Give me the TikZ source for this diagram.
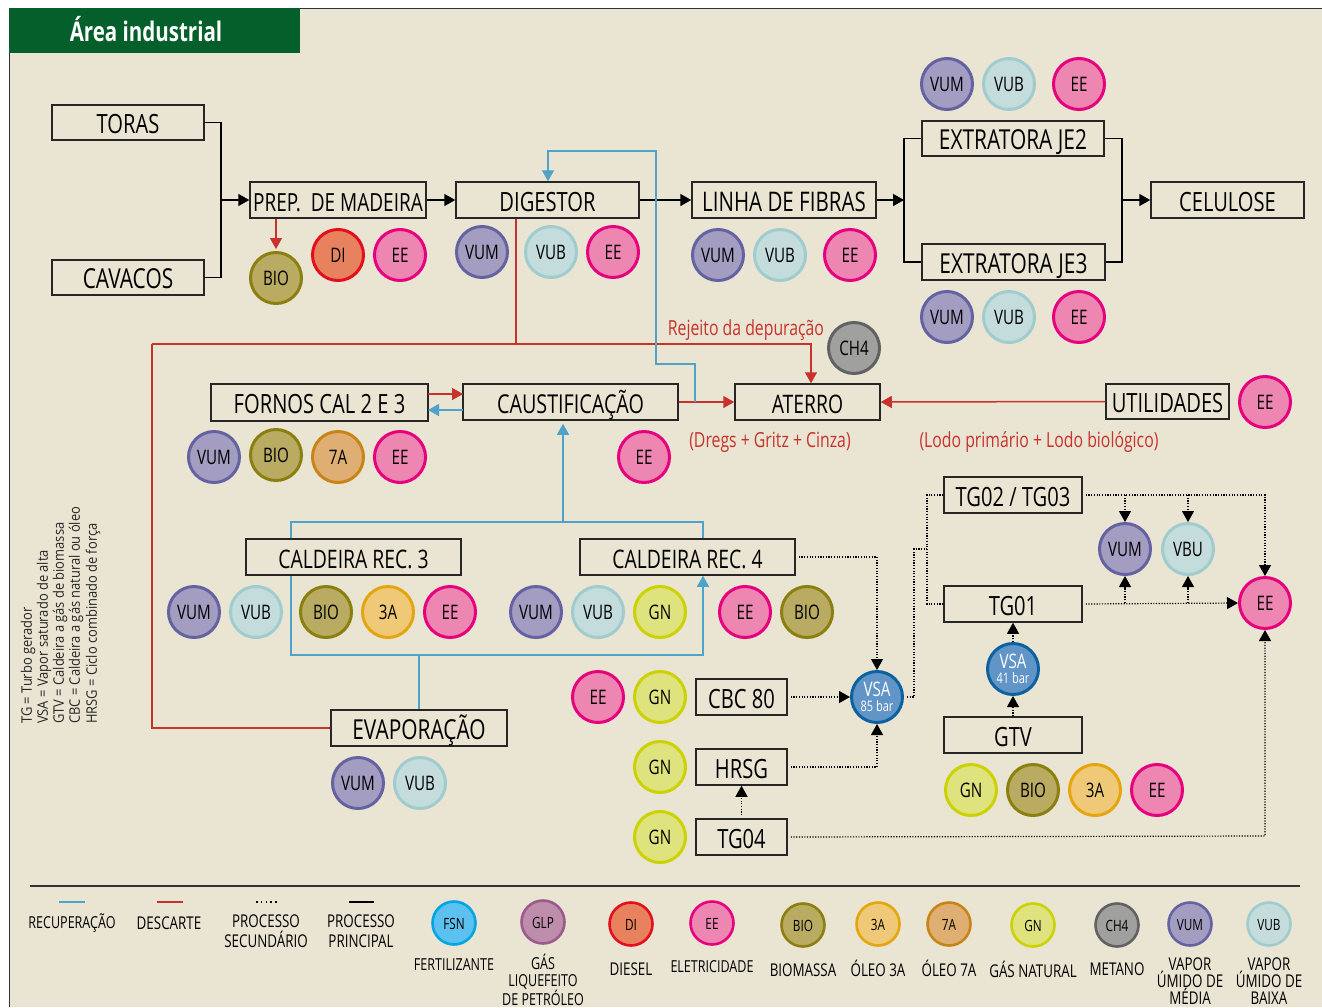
\documentclass[tikz,border=0pt]{standalone}
\usepackage{fontspec}
\setmainfont[FakeStretch=0.76]{Open Sans}
\newfontfamily\sidefont[FakeStretch=0.89]{Open Sans}
\usetikzlibrary{arrows.meta,calc}
\definecolor{bgc}{HTML}{E9E5D2}
\definecolor{grn}{HTML}{055F2B}
\definecolor{redl}{HTML}{C8322D}
\definecolor{blul}{HTML}{4FA3C9}
\definecolor{VUMf}{HTML}{A49DC2}\definecolor{VUMl}{HTML}{6462A0}
\definecolor{VUBf}{HTML}{C4DCDC}\definecolor{VUBl}{HTML}{A0CCCF}
\definecolor{EEf}{HTML}{EE86B2}\definecolor{EEl}{HTML}{E6007E}
\definecolor{BIOf}{HTML}{B9AB62}\definecolor{BIOl}{HTML}{8A7F0F}
\definecolor{DIf}{HTML}{E8825E}\definecolor{DIl}{HTML}{E30F1E}
\definecolor{TAf}{HTML}{EFC977}\definecolor{TAl}{HTML}{E5A50E}
\definecolor{SAf}{HTML}{DFAE73}\definecolor{SAl}{HTML}{C98418}
\definecolor{GNf}{HTML}{DFE37E}\definecolor{GNl}{HTML}{CBD200}
\definecolor{CHf}{HTML}{A0A19E}\definecolor{CHl}{HTML}{616161}
\definecolor{FSNf}{HTML}{5CC1EE}\definecolor{FSNl}{HTML}{00A5E3}
\definecolor{GLPf}{HTML}{BF8DAC}\definecolor{GLPl}{HTML}{9B5B8A}
\definecolor{VSAf}{HTML}{6195C8}\definecolor{VSAl}{HTML}{0C629E}
\tikzset{
  boxn/.style={draw=black!85,line width=1.5pt,inner sep=0pt,font=\fontsize{26.5}{26.5}\selectfont,text=black,text height=22pt,text depth=0pt},
  discb/.style={circle,line width=3pt,minimum size=51pt,inner sep=0pt,font=\fontsize{20}{20}\selectfont,text=black},
  disc/.style={discb,text height=15.8pt,text depth=0pt},
  ldisc/.style={circle,line width=2.6pt,minimum size=43pt,inner sep=0pt,font=\fontsize{15.5}{15.5}\selectfont,text=black,text height=12.6pt,text depth=0pt},
  VUM/.style={fill=VUMf,draw=VUMl},VUB/.style={fill=VUBf,draw=VUBl},EE/.style={fill=EEf,draw=EEl},
  BIO/.style={fill=BIOf,draw=BIOl},DI/.style={fill=DIf,draw=DIl},TA/.style={fill=TAf,draw=TAl},
  SA/.style={fill=SAf,draw=SAl},GN/.style={fill=GNf,draw=GNl},CH/.style={fill=CHf,draw=CHl},
  FSN/.style={fill=FSNf,draw=FSNl},GLP/.style={fill=GLPf,draw=GLPl},VSA/.style={fill=VSAf,draw=VSAl,text=white},
  tip/.style={-{Triangle[length=11pt,width=12pt]}},
  mainl/.style={draw=black,line width=1.5pt},
  redc/.style={draw=redl,line width=1.5pt},
  bluec/.style={draw=blul,line width=1.4pt},
  dotl/.style={draw=black,line width=1.2pt,dash pattern=on 1.2pt off 1.5pt},
  dtip/.style={dotl,tip,shorten <=3pt},
  legt/.style={font=\fontsize{16.5}{17}\selectfont,align=center,text=black,inner sep=0pt},
  legb/.style={font=\fontsize{17.6}{17}\selectfont,align=center,text=black,inner sep=0pt},
  redt/.style={font=\fontsize{20.8}{20.8}\selectfont,text=redl,inner sep=0pt},
  sidet/.style={font=\sidefont\fontsize{14.5}{14}\selectfont,text=black!85,rotate=90,anchor=west,inner sep=0pt},
}
\newcommand\bx[6]{\node[boxn,minimum width=#4pt-#2pt,minimum height=#5pt-#3pt] (#1) at ({(#2+#4)/2},{(#3+#5)/2}) {#6};}
\newcommand\dsc[5]{\node[disc,#2] (#1) at (#3,#4) {#5};}
\newcommand\ldsc[5]{\node[ldisc,#2] (#1) at (#3,#4) {#5};}
\begin{document}
\begin{tikzpicture}[x=1pt,y=-1pt]
\useasboundingbox (0,0) rectangle (1322,1007);
\fill[white] (0,0) rectangle (1322,1007);
\fill[bgc] (9,8) rectangle (1322,1007);
\draw[black!80,line width=1pt] (9,1007) -- (9,8) -- (1322,8);
\fill[grn] (9,8) rectangle (300,53);
\node[font=\fontsize{27}{27}\selectfont\bfseries,text=white,inner sep=0pt] (title) at (146,29.5) {Área industrial};

\bx{toras}{52}{105}{204}{140}{TORAS}
\bx{cavacos}{52}{260}{204}{295}{\fontsize{27.5}{27.5}\selectfont CAVACOS}
\bx{prep}{250}{182}{426}{218}{\fontsize{25}{25}\selectfont PREP.\ \ DE MADEIRA}
\bx{digestor}{456}{182}{639}{218}{DIGESTOR}
\bx{linha}{692}{182}{876}{218}{\fontsize{27}{27}\selectfont LINHA DE FIBRAS}
\bx{je2}{922}{121}{1104}{156}{\fontsize{27.5}{27.5}\selectfont EXTRATORA JE2}
\bx{je3}{922}{244}{1105}{280}{\fontsize{27.5}{27.5}\selectfont EXTRATORA JE3}
\bx{celulose}{1151}{182}{1304}{218}{CELULOSE}
\bx{fornos}{211}{384}{428}{421}{FORNOS CAL 2 E 3}
\bx{caust}{463}{384}{678}{420}{\fontsize{26}{26}\selectfont CAUSTIFICAÇÃO}
\bx{aterro}{735}{384}{880}{420}{\fontsize{25.5}{25.5}\selectfont ATERRO}
\bx{util}{1106}{384}{1229}{419}{UTILIDADES}
\bx{cald3}{246}{539}{461}{575}{\fontsize{25.5}{25.5}\selectfont CALDEIRA REC. 3}
\bx{cald4}{580}{539}{795}{575}{\fontsize{25.5}{25.5}\selectfont CALDEIRA REC. 4}
\bx{evap}{331}{710}{507}{746}{\fontsize{27.5}{27.5}\selectfont EVAPORAÇÃO}
\bx{cbc}{696}{679}{787}{715}{CBC 80}
\bx{hrsg}{696}{749}{787}{785}{HRSG}
\bx{tgq}{696}{819}{787}{855}{TG04}
\bx{tgd}{944}{477}{1082}{513}{TG02 / TG03}
\bx{tgu}{944}{586}{1082}{622}{TG01}
\bx{gtv}{944}{717}{1082}{753}{GTV}

\dsc{pbio}{BIO}{276}{278}{BIO}\dsc{pdi}{DI}{338}{255}{DI}\dsc{pee}{EE}{400}{255}{EE}
\dsc{dvum}{VUM}{482}{252}{VUM}\dsc{dvub}{VUB}{551}{252}{VUB}\dsc{dee}{EE}{613}{252}{EE}
\dsc{lvum}{VUM}{718}{255}{VUM}\dsc{lvub}{VUB}{780}{255}{VUB}\dsc{lee}{EE}{850}{255}{EE}
\dsc{avum}{VUM}{947}{84}{VUM}\dsc{avub}{VUB}{1009}{84}{VUB}\dsc{aee}{EE}{1079}{84}{EE}
\dsc{bvum}{VUM}{947}{317}{VUM}\dsc{bvub}{VUB}{1009}{317}{VUB}\dsc{bee}{EE}{1079}{317}{EE}
\dsc{ch}{CH}{854}{348}{CH4}\dsc{uee}{EE}{1265}{402}{EE}
\dsc{fvum}{VUM}{214}{457}{VUM}\dsc{fbio}{BIO}{276}{455}{BIO}\dsc{fsa}{SA}{338}{457}{7A}\dsc{fee}{EE}{400}{457}{EE}
\dsc{cee}{EE}{644}{457}{EE}
\dsc{gvum}{VUM}{194}{612}{VUM}\dsc{gvub}{VUB}{256}{612}{VUB}\dsc{gbio}{BIO}{326}{612}{BIO}\dsc{gta}{TA}{388}{612}{3A}\dsc{gee}{EE}{450}{612}{EE}
\dsc{hvum}{VUM}{536}{612}{VUM}\dsc{hvub}{VUB}{598}{612}{VUB}\dsc{hgn}{GN}{660}{612}{GN}\dsc{hee}{EE}{745}{612}{EE}\dsc{hbio}{BIO}{807}{612}{BIO}
\dsc{evum}{VUM}{358}{783}{VUM}\dsc{evub}{VUB}{420}{783}{VUB}
\dsc{kee}{EE}{598}{697}{EE}\dsc{kgn}{GN}{660}{697}{GN}\dsc{mgn}{GN}{660}{767}{GN}\dsc{ngn}{GN}{660}{837}{GN}
\node[discb,VSA] (vsaa) at (877,697) {\shortstack{VSA\\[1pt]{\fontsize{14.5}{14.5}\selectfont 85 bar}}};
\node[discb,VSA] (vsab) at (1013,669) {\shortstack{VSA\\[1pt]{\fontsize{14.5}{14.5}\selectfont 41 bar}}};
\dsc{tvum}{VUM}{1125}{549}{VUM}\dsc{tvbu}{VUB}{1188}{549}{VBU}\dsc{tee}{EE}{1265}{603}{EE}
\dsc{wgn}{GN}{971}{790}{GN}\dsc{wbio}{BIO}{1033}{790}{BIO}\dsc{wta}{TA}{1095}{790}{3A}\dsc{wee}{EE}{1157}{790}{EE}

% main connectors
\coordinate (j1) at (221,200);
\coordinate (j2) at (904,200);
\coordinate (j3) at (1122,200);
\draw[mainl] (toras.east) -| (j1);
\draw[mainl] (cavacos.east) -| (j1);
\draw[mainl,tip] (j1) -- (prep.west);
\draw[mainl,tip] (prep.east) -- (digestor.west);
\draw[mainl,tip] (digestor.east) -- (linha.west);
\draw[mainl,tip] (linha.east) -- (j2);
\draw[mainl] (je2.west) -| (j2);
\draw[mainl] (je3.west) -| (j2);
\draw[mainl] (je2.east) -| (j3);
\draw[mainl] (je3.east) -| (j3);
\draw[mainl,tip] (j3) -- (celulose.west);

% red connectors
\coordinate (r1) at (516,344);
\coordinate (r2) at (152,344);
\coordinate (r3) at (811,344);
\coordinate (fr) at (428,394);
\coordinate (cr) at (463,394);
\coordinate (cb) at (463,410);
\coordinate (fb) at (428,410);
\draw[redc,tip,shorten >=2pt] (prep.south -| pbio.north) -- (pbio.north);
\draw[redc] (digestor.south -| r1) -- (r1);
\draw[redc] (evap.west) -| (r2);
\draw[redc,tip] (r2) -- (r3) -- (aterro.north -| r3);
\draw[redc,tip] (fr) -- (cr);
\draw[redc,tip] (caust.east) -- (aterro.west);
\draw[redc,tip] (util.west) -- (aterro.east);

% blue connectors
\coordinate (b1) at (695,402);
\coordinate (b2) at (695,364);
\coordinate (b3) at (656,364);
\coordinate (b4) at (656,151);
\coordinate (b5) at (548,151);
\coordinate (c1) at (291,522);
\coordinate (c2) at (703,522);
\coordinate (c3) at (563,522);
\coordinate (c4) at (291,655);
\coordinate (c5) at (703,655);
\draw[bluec,tip] (cb) -- (fb);
\draw[bluec,tip] (b1) -- (b2) -- (b3) -- (b4) -- (b5) -- (digestor.north -| b5);
\draw[bluec] (cald3.north -| c1) -- (c1) -- (c2) -- (cald4.north -| c2);
\draw[bluec,tip,shorten >=3pt] (c3) -- (caust.south -| c3);
\draw[bluec,tip] (cald3.south -| c4) -- (c4) -- (c5) -- (cald4.south -| c5);
\draw[bluec] (evap.north) -- (evap.north |- c4);

% dotted connectors
\coordinate (d1) at (914,697);
\coordinate (d2) at (914,549);
\coordinate (d3) at (927,549);
\coordinate (d4) at (1125,495);
\coordinate (d5) at (1188,495);
\coordinate (d6) at (1125,603);
\coordinate (d7) at (1188,603);
\coordinate (d8) at (1265,836);
\draw[dotl,shorten <=3pt] (vsaa.east) -- (d1) -- (d2) -- (d3);
\draw[dotl] (tgd.west) -| (d3);
\draw[dotl] (tgu.west) -| (d3);
\draw[dtip] (cald4.east) -| (vsaa.north);
\draw[dtip] (cbc.east) -- (vsaa.west);
\draw[dtip] (hrsg.east) -| (vsaa.south);
\draw[dtip] (tgq.north) -- (hrsg.south);
\draw[dtip] (tgq.east) -- (d8) -- (tee.south);
\draw[dtip] (tgd.east) -| (tee.north);
\draw[dotl,tip] (d4) -- (tvum.north);
\draw[dotl,tip] (d5) -- (tvbu.north);
\draw[dtip] (tgu.east) -- (tee.west);
\draw[dotl,tip] (d6) -- (tvum.south);
\draw[dotl,tip] (d7) -- (tvbu.south);
\draw[dotl,tip] (gtv.north) -- (vsab.south);
\draw[dotl,tip] (vsab.north) -- (tgu.south);

% red labels
\node[redt] (t1) at (746,330) {Rejeito da depuração};
\node[redt] (t2) at (770,442) {(Dregs + Gritz + Cinza)};
\node[redt] (t3) at (1039,442) {(Lodo primário + Lodo biológico)};

% side key
\node[sidet] (s1) at (28,724) {TG = Turbo gerador};
\node[sidet] (s2) at (44,724) {VSA = Vapor saturado de alta};
\node[sidet] (s3) at (60,724) {GTV = Caldeira a gás de biomassa};
\node[sidet] (s4) at (76,724) {CBC = Caldeira a gás natural ou óleo};
\node[sidet] (s5) at (93,724) {HRSG = Ciclo combinado de força};

% legend
\coordinate (l0) at (30,886);
\coordinate (l1) at (1300,886);
\draw[black!80,line width=1.3pt] (l0) -- (l1);
\coordinate (la) at (59,902);\coordinate (lb) at (85,902);
\coordinate (lc) at (157,902);\coordinate (ld) at (183,902);
\coordinate (le) at (256,902);\coordinate (lf) at (279,902);
\coordinate (lg) at (349,902);\coordinate (lh) at (374,902);
\draw[bluec,line width=2pt] (la) -- (lb);
\draw[redc,line width=2pt] (lc) -- (ld);
\draw[black,line width=1.6pt,dash pattern=on 1.6pt off 3.2pt] (le) -- (lf);
\draw[black,line width=2pt] (lg) -- (lh);
\node[legt] (n1) at (72,923) {RECUPERAÇÃO};
\node[legb] (n2) at (169,923) {DESCARTE};
\node[legb] (n3) at (266,931) {PROCESSO\\[3pt]SECUNDÁRIO};
\node[legb] (n4) at (361,931) {PROCESSO\\[3pt]PRINCIPAL};
\ldsc{xfsn}{FSN}{454}{923}{FSN}
\ldsc{xglp}{GLP}{543}{922}{GLP}
\ldsc{xdi}{DI}{631}{924}{DI}
\ldsc{xee}{EE}{712}{923}{EE}
\ldsc{xbio}{BIO}{803}{925}{BIO}
\ldsc{xta}{TA}{878}{924}{3A}
\ldsc{xsa}{SA}{949}{924}{7A}
\ldsc{xgn}{GN}{1033}{925}{GN}
\ldsc{xch}{CH}{1117}{925}{CH4}
\ldsc{xvum}{VUM}{1190}{924}{VUM}
\ldsc{xvub}{VUB}{1269}{924}{VUB}
\node[legt] (o1) at (454,965) {FERTILIZANTE};
\node[legt] (o2) at (543,980) {GÁS\\LIQUEFEITO\\DE PETRÓLEO};
\node[legb] (o3) at (631,969) {DIESEL};
\node[legt] (o4) at (712,967) {ELETRICIDADE};
\node[legb] (o5) at (803,970) {BIOMASSA};
\node[legb] (o6) at (878,968) {ÓLEO 3A};
\node[legb] (o7) at (949,968) {ÓLEO 7A};
\node[legb] (o8) at (1033,969) {GÁS NATURAL};
\node[legb] (o9) at (1117,969) {METANO};
\node[legb] (o10) at (1190,981.5) {VAPOR\\ÚMIDO DE\\MÉDIA};
\node[legb] (o11) at (1269,981.5) {VAPOR\\ÚMIDO DE\\BAIXA};
\end{tikzpicture}
\end{document}
